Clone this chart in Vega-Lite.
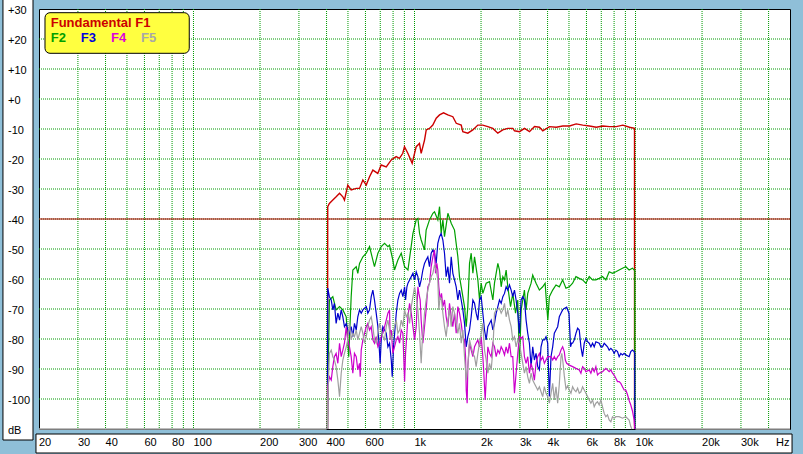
{
"$schema": "https://vega.github.io/schema/vega-lite/v6.json",
"width": 751, "height": 420,
"autosize": {"type": "none"},
"padding": {"left": 39, "top": 9, "right": 13, "bottom": 25},
"background": "#8fbfd8",
"config": {"view": {"fill": "white", "stroke": "#000000", "strokeWidth": 1}, "font": "Liberation Sans"},
"data": {"values": [{}]},
"datasets": {
"vgrid": [{"f":30},{"f":40},{"f":50},{"f":60},{"f":70},{"f":80},{"f":90},{"f":100},{"f":200},{"f":300},{"f":400},{"f":500},{"f":600},{"f":700},{"f":800},{"f":900},{"f":1000},{"f":2000},{"f":3000},{"f":4000},{"f":5000},{"f":6000},{"f":7000},{"f":8000},{"f":9000},{"f":10000},{"f":20000},{"f":30000},{"f":40000}],
"hgrid": [{"db":20},{"db":10},{"db":0},{"db":-10},{"db":-20},{"db":-30},{"db":-40},{"db":-50},{"db":-60},{"db":-70},{"db":-80},{"db":-90},{"db":-100}],
"xlabels": [{"f":20,"t":"20"},{"f":30,"t":"30"},{"f":40,"t":"40"},{"f":60,"t":"60"},{"f":80,"t":"80"},{"f":100,"t":"100"},{"f":200,"t":"200"},{"f":300,"t":"300"},{"f":400,"t":"400"},{"f":600,"t":"600"},{"f":1000,"t":"1k"},{"f":2000,"t":"2k"},{"f":3000,"t":"3k"},{"f":4000,"t":"4k"},{"f":6000,"t":"6k"},{"f":8000,"t":"8k"},{"f":10000,"t":"10k"},{"f":20000,"t":"20k"},{"f":30000,"t":"30k"},{"f":43200,"t":"Hz"}],
"ylabels": [{"db":30,"t":"+30"},{"db":20,"t":"+20"},{"db":10,"t":"+10"},{"db":0,"t":"+0"},{"db":-10,"t":"-10"},{"db":-20,"t":"-20"},{"db":-30,"t":"-30"},{"db":-40,"t":"-40"},{"db":-50,"t":"-50"},{"db":-60,"t":"-60"},{"db":-70,"t":"-70"},{"db":-80,"t":"-80"},{"db":-90,"t":"-90"},{"db":-100,"t":"-100"},{"db":-110,"t":"dB"}],
"F1": [{"f":404,"db":-110},{"f":405,"db":-35.9},{"f":412,"db":-34.8},{"f":427,"db":-33.7},{"f":442,"db":-32.6},{"f":458,"db":-31.4},{"f":474,"db":-32.6},{"f":482,"db":-33.7},{"f":499,"db":-28.7},{"f":517,"db":-30.3},{"f":545,"db":-29.8},{"f":564,"db":-29.8},{"f":584,"db":-27},{"f":605,"db":-28.7},{"f":626,"db":-25.9},{"f":648,"db":-23.7},{"f":682,"db":-24.8},{"f":707,"db":-22},{"f":745,"db":-22.6},{"f":785,"db":-20.3},{"f":826,"db":-19.2},{"f":855,"db":-19.8},{"f":885,"db":-18.1},{"f":901,"db":-15.9},{"f":933,"db":-18.1},{"f":976,"db":-21.4},{"f":1018,"db":-15.9},{"f":1053,"db":-14.8},{"f":1072,"db":-18.1},{"f":1110,"db":-13.7},{"f":1130,"db":-10.3},{"f":1169,"db":-9.8},{"f":1210,"db":-8.7},{"f":1254,"db":-6.4},{"f":1298,"db":-5.3},{"f":1353,"db":-4.6},{"f":1415,"db":-5.3},{"f":1491,"db":-5.9},{"f":1545,"db":-8.1},{"f":1627,"db":-8.7},{"f":1654,"db":-10.9},{"f":1743,"db":-11.4},{"f":1836,"db":-10.3},{"f":1934,"db":-8.7},{"f":2037,"db":-8.7},{"f":2146,"db":-9.2},{"f":2261,"db":-9.8},{"f":2382,"db":-11.4},{"f":2508,"db":-10.3},{"f":2643,"db":-9.8},{"f":2784,"db":-9.8},{"f":2835,"db":-10.6},{"f":2986,"db":-10.9},{"f":3146,"db":-9.8},{"f":3314,"db":-10.9},{"f":3491,"db":-9.2},{"f":3678,"db":-9.4},{"f":3806,"db":-10.6},{"f":4082,"db":-9.2},{"f":4377,"db":-9.4},{"f":4688,"db":-9},{"f":5028,"db":-9},{"f":5391,"db":-8.3},{"f":5774,"db":-8.7},{"f":6193,"db":-9},{"f":6641,"db":-9.4},{"f":7112,"db":-9},{"f":7627,"db":-9.2},{"f":8179,"db":-9.2},{"f":8761,"db":-8.7},{"f":9395,"db":-9.4},{"f":9897,"db":-9.8},{"f":9900,"db":-110}],
"F2": [{"f":404,"db":-110},{"f":405,"db":-100},{"f":412,"db":-67},{"f":427,"db":-65.9},{"f":442,"db":-70.3},{"f":458,"db":-69.2},{"f":474,"db":-70.3},{"f":491,"db":-72.6},{"f":504,"db":-85.9},{"f":517,"db":-65.9},{"f":526,"db":-57},{"f":545,"db":-55.9},{"f":554,"db":-58.1},{"f":564,"db":-54.8},{"f":584,"db":-52.6},{"f":605,"db":-51.4},{"f":626,"db":-49.2},{"f":648,"db":-53.7},{"f":659,"db":-55.9},{"f":683,"db":-51.4},{"f":707,"db":-49.2},{"f":732,"db":-48.1},{"f":758,"db":-49.2},{"f":771,"db":-48.7},{"f":798,"db":-53.7},{"f":812,"db":-57},{"f":841,"db":-53.7},{"f":871,"db":-51.4},{"f":902,"db":-55.9},{"f":934,"db":-57},{"f":984,"db":-44.8},{"f":1018,"db":-40.3},{"f":1036,"db":-39.8},{"f":1054,"db":-44.8},{"f":1072,"db":-47},{"f":1110,"db":-50.3},{"f":1129,"db":-43.7},{"f":1169,"db":-40.3},{"f":1211,"db":-38.1},{"f":1232,"db":-37.6},{"f":1275,"db":-40.3},{"f":1298,"db":-35.9},{"f":1320,"db":-44.8},{"f":1344,"db":-40.3},{"f":1367,"db":-45.9},{"f":1416,"db":-38.1},{"f":1466,"db":-41.4},{"f":1517,"db":-43.7},{"f":1571,"db":-52.6},{"f":1598,"db":-59.2},{"f":1627,"db":-62.6},{"f":1684,"db":-69.2},{"f":1714,"db":-75.9},{"f":1743,"db":-69.2},{"f":1774,"db":-54.8},{"f":1805,"db":-51.4},{"f":1837,"db":-58.1},{"f":1869,"db":-52.6},{"f":1935,"db":-60.3},{"f":1969,"db":-67},{"f":2003,"db":-61.4},{"f":2038,"db":-64.8},{"f":2110,"db":-61.4},{"f":2185,"db":-60.9},{"f":2262,"db":-67},{"f":2301,"db":-61.4},{"f":2383,"db":-54.8},{"f":2424,"db":-57},{"f":2467,"db":-62.6},{"f":2510,"db":-59.2},{"f":2554,"db":-60.3},{"f":2598,"db":-57},{"f":2643,"db":-62.6},{"f":2720,"db":-69.2},{"f":2784,"db":-64.8},{"f":2865,"db":-71.4},{"f":2933,"db":-67},{"f":2984,"db":-88.1},{"f":3038,"db":-70.3},{"f":3089,"db":-67},{"f":3143,"db":-63.7},{"f":3198,"db":-70.3},{"f":3254,"db":-64.8},{"f":3369,"db":-61.4},{"f":3427,"db":-58.7},{"f":3548,"db":-61.4},{"f":3673,"db":-63.7},{"f":3802,"db":-62.6},{"f":3900,"db":-61.4},{"f":3967,"db":-69.2},{"f":4011,"db":-73.7},{"f":4075,"db":-65.9},{"f":4219,"db":-63.7},{"f":4367,"db":-62},{"f":4521,"db":-62.6},{"f":4680,"db":-60.3},{"f":4845,"db":-63.1},{"f":5016,"db":-62.6},{"f":5193,"db":-61.4},{"f":5376,"db":-59.2},{"f":5565,"db":-59.8},{"f":5761,"db":-60.3},{"f":5964,"db":-61.4},{"f":6174,"db":-59.2},{"f":6392,"db":-60.3},{"f":6617,"db":-60.3},{"f":6850,"db":-59.8},{"f":7092,"db":-59.2},{"f":7341,"db":-60.3},{"f":7600,"db":-57.6},{"f":7868,"db":-58.1},{"f":8145,"db":-57.6},{"f":8433,"db":-57},{"f":8730,"db":-56.4},{"f":9037,"db":-55.9},{"f":9356,"db":-57},{"f":9685,"db":-56.4},{"f":9922,"db":-57.2},{"f":9925,"db":-110}],
"F3": [{"f":404,"db":-110},{"f":405,"db":-63},{"f":412,"db":-65.9},{"f":420,"db":-67},{"f":427,"db":-70.3},{"f":434,"db":-68.1},{"f":442,"db":-74.8},{"f":450,"db":-71.4},{"f":458,"db":-73.7},{"f":466,"db":-70.3},{"f":474,"db":-72.6},{"f":482,"db":-75.9},{"f":491,"db":-74.8},{"f":499,"db":-77},{"f":508,"db":-78.1},{"f":517,"db":-75.9},{"f":526,"db":-79.2},{"f":535,"db":-74.8},{"f":545,"db":-77},{"f":554,"db":-72.6},{"f":564,"db":-70.3},{"f":574,"db":-71.4},{"f":584,"db":-70.3},{"f":605,"db":-69.2},{"f":615,"db":-71.4},{"f":626,"db":-70.3},{"f":637,"db":-65.9},{"f":648,"db":-63.7},{"f":659,"db":-67},{"f":671,"db":-71.4},{"f":683,"db":-75.9},{"f":695,"db":-84.8},{"f":699,"db":-88.1},{"f":707,"db":-80.3},{"f":719,"db":-75.9},{"f":732,"db":-77},{"f":745,"db":-78.1},{"f":758,"db":-82.6},{"f":771,"db":-81.4},{"f":785,"db":-87},{"f":793,"db":-92.6},{"f":804,"db":-82.6},{"f":827,"db":-71.4},{"f":841,"db":-67},{"f":856,"db":-64.8},{"f":871,"db":-63.7},{"f":886,"db":-65.9},{"f":902,"db":-62.6},{"f":911,"db":-67},{"f":924,"db":-62.6},{"f":934,"db":-61.4},{"f":950,"db":-60.3},{"f":967,"db":-59.2},{"f":984,"db":-58.1},{"f":1001,"db":-60.3},{"f":1018,"db":-57.6},{"f":1036,"db":-59.2},{"f":1054,"db":-62.6},{"f":1072,"db":-60.3},{"f":1091,"db":-57},{"f":1110,"db":-54.8},{"f":1129,"db":-53.7},{"f":1149,"db":-52.6},{"f":1169,"db":-55.9},{"f":1190,"db":-51.4},{"f":1211,"db":-50.3},{"f":1232,"db":-51.4},{"f":1253,"db":-54.8},{"f":1275,"db":-48.1},{"f":1298,"db":-45.9},{"f":1320,"db":-44.8},{"f":1344,"db":-47},{"f":1367,"db":-51.4},{"f":1391,"db":-59.2},{"f":1416,"db":-55.9},{"f":1440,"db":-61.4},{"f":1466,"db":-52.6},{"f":1491,"db":-58.1},{"f":1517,"db":-60.3},{"f":1544,"db":-62.6},{"f":1571,"db":-67},{"f":1598,"db":-63.7},{"f":1627,"db":-67},{"f":1655,"db":-70.3},{"f":1684,"db":-74.8},{"f":1714,"db":-82.6},{"f":1743,"db":-79.2},{"f":1774,"db":-77},{"f":1805,"db":-72.6},{"f":1837,"db":-67},{"f":1869,"db":-68.1},{"f":1901,"db":-71.4},{"f":1935,"db":-73.7},{"f":1969,"db":-67},{"f":2003,"db":-65.9},{"f":2038,"db":-71.4},{"f":2074,"db":-77},{"f":2110,"db":-80.3},{"f":2147,"db":-75.9},{"f":2185,"db":-74.8},{"f":2223,"db":-73.7},{"f":2262,"db":-77},{"f":2301,"db":-74.8},{"f":2342,"db":-71.4},{"f":2383,"db":-69.2},{"f":2424,"db":-67},{"f":2467,"db":-68.1},{"f":2510,"db":-65.9},{"f":2554,"db":-64.8},{"f":2598,"db":-62.6},{"f":2643,"db":-63.7},{"f":2690,"db":-62},{"f":2737,"db":-63.7},{"f":2784,"db":-65.9},{"f":2833,"db":-63.7},{"f":2882,"db":-67},{"f":2933,"db":-71.4},{"f":2984,"db":-78.1},{"f":3036,"db":-67},{"f":3089,"db":-65.9},{"f":3143,"db":-67},{"f":3198,"db":-73.7},{"f":3254,"db":-78.1},{"f":3311,"db":-81.4},{"f":3369,"db":-89.2},{"f":3427,"db":-82.6},{"f":3487,"db":-87},{"f":3548,"db":-84.8},{"f":3610,"db":-89.2},{"f":3673,"db":-90.3},{"f":3737,"db":-82.6},{"f":3802,"db":-80.3},{"f":3869,"db":-80.3},{"f":3936,"db":-79.2},{"f":4005,"db":-81.4},{"f":4075,"db":-99.2},{"f":4146,"db":-85.9},{"f":4219,"db":-82.6},{"f":4292,"db":-78.1},{"f":4367,"db":-77},{"f":4444,"db":-75.9},{"f":4521,"db":-72.6},{"f":4600,"db":-71.4},{"f":4680,"db":-70.3},{"f":4762,"db":-69.8},{"f":4880,"db":-69.4},{"f":5000,"db":-71.4},{"f":5083,"db":-82.6},{"f":5140,"db":-81.4},{"f":5193,"db":-81.4},{"f":5284,"db":-80.3},{"f":5376,"db":-78.1},{"f":5470,"db":-76.4},{"f":5565,"db":-77},{"f":5662,"db":-82.6},{"f":5761,"db":-85.9},{"f":5862,"db":-81.4},{"f":5964,"db":-79.8},{"f":6068,"db":-80.9},{"f":6174,"db":-81.4},{"f":6282,"db":-82.6},{"f":6392,"db":-81.4},{"f":6503,"db":-82.6},{"f":6617,"db":-80.9},{"f":6850,"db":-81.4},{"f":6970,"db":-82.6},{"f":7092,"db":-82.6},{"f":7216,"db":-81.4},{"f":7341,"db":-82},{"f":7470,"db":-82.6},{"f":7600,"db":-83.7},{"f":7733,"db":-83.1},{"f":7868,"db":-83.7},{"f":8006,"db":-84.8},{"f":8145,"db":-83.7},{"f":8288,"db":-84.2},{"f":8433,"db":-85.9},{"f":8580,"db":-84.8},{"f":8730,"db":-85.3},{"f":8883,"db":-84.8},{"f":9037,"db":-85.3},{"f":9356,"db":-85.9},{"f":9519,"db":-84.2},{"f":9685,"db":-83.7},{"f":9855,"db":-84.2},{"f":9922,"db":-84.8},{"f":9925,"db":-110}],
"F4": [{"f":404,"db":-110},{"f":405,"db":-96},{"f":412,"db":-92.6},{"f":420,"db":-93.7},{"f":427,"db":-89.2},{"f":434,"db":-85.9},{"f":442,"db":-84.8},{"f":450,"db":-88.1},{"f":458,"db":-81.4},{"f":466,"db":-85.9},{"f":474,"db":-83.7},{"f":482,"db":-81.4},{"f":491,"db":-75.9},{"f":499,"db":-80.3},{"f":508,"db":-82.6},{"f":517,"db":-85.9},{"f":526,"db":-91.4},{"f":535,"db":-84.8},{"f":545,"db":-85.9},{"f":554,"db":-90.3},{"f":564,"db":-88.1},{"f":568,"db":-92.6},{"f":574,"db":-83.7},{"f":584,"db":-80.3},{"f":605,"db":-75.9},{"f":615,"db":-74.8},{"f":626,"db":-77},{"f":637,"db":-75.9},{"f":648,"db":-80.3},{"f":659,"db":-81.4},{"f":671,"db":-79.2},{"f":683,"db":-82.6},{"f":695,"db":-81.4},{"f":707,"db":-79.2},{"f":719,"db":-78.1},{"f":732,"db":-75.9},{"f":745,"db":-73.7},{"f":758,"db":-71.4},{"f":771,"db":-70.3},{"f":776,"db":-80.3},{"f":785,"db":-77},{"f":798,"db":-84.8},{"f":812,"db":-82.6},{"f":827,"db":-80.3},{"f":841,"db":-79.2},{"f":856,"db":-81.4},{"f":871,"db":-77},{"f":886,"db":-78.1},{"f":902,"db":-94.2},{"f":911,"db":-84.8},{"f":924,"db":-78.1},{"f":934,"db":-72.6},{"f":950,"db":-68.1},{"f":967,"db":-71.4},{"f":984,"db":-75.9},{"f":1001,"db":-80.3},{"f":1018,"db":-75.9},{"f":1036,"db":-62.6},{"f":1047,"db":-64.8},{"f":1061,"db":-67},{"f":1072,"db":-73.7},{"f":1091,"db":-81.4},{"f":1110,"db":-75.9},{"f":1129,"db":-70.3},{"f":1149,"db":-62.6},{"f":1169,"db":-61.4},{"f":1190,"db":-55.9},{"f":1211,"db":-52.6},{"f":1232,"db":-50.3},{"f":1245,"db":-58.1},{"f":1262,"db":-54.8},{"f":1275,"db":-57},{"f":1288,"db":-62.6},{"f":1307,"db":-67},{"f":1325,"db":-64.8},{"f":1344,"db":-69.2},{"f":1367,"db":-67},{"f":1391,"db":-72.6},{"f":1416,"db":-75.9},{"f":1440,"db":-68.1},{"f":1466,"db":-72.6},{"f":1491,"db":-75.9},{"f":1517,"db":-71.4},{"f":1544,"db":-78.1},{"f":1571,"db":-69.2},{"f":1598,"db":-71.4},{"f":1627,"db":-74.8},{"f":1655,"db":-79.2},{"f":1684,"db":-80.3},{"f":1702,"db":-85.9},{"f":1714,"db":-97},{"f":1731,"db":-101.4},{"f":1743,"db":-89.2},{"f":1774,"db":-81.4},{"f":1805,"db":-83.7},{"f":1837,"db":-85.9},{"f":1869,"db":-82.6},{"f":1901,"db":-81.4},{"f":1935,"db":-80.3},{"f":1969,"db":-82.6},{"f":2003,"db":-79.2},{"f":2038,"db":-85.9},{"f":2059,"db":-91.4},{"f":2088,"db":-100.3},{"f":2110,"db":-93.7},{"f":2147,"db":-82.6},{"f":2185,"db":-84.8},{"f":2223,"db":-85.9},{"f":2262,"db":-81.4},{"f":2301,"db":-82.6},{"f":2342,"db":-85.9},{"f":2383,"db":-83.7},{"f":2424,"db":-84.8},{"f":2467,"db":-82.6},{"f":2510,"db":-83.7},{"f":2554,"db":-85.3},{"f":2598,"db":-82.6},{"f":2643,"db":-84.8},{"f":2690,"db":-81.4},{"f":2737,"db":-85.9},{"f":2784,"db":-85.9},{"f":2833,"db":-98.1},{"f":2882,"db":-91.4},{"f":2933,"db":-84.8},{"f":2984,"db":-79.2},{"f":3036,"db":-79.8},{"f":3089,"db":-79.2},{"f":3143,"db":-85.9},{"f":3198,"db":-88.1},{"f":3254,"db":-85.9},{"f":3311,"db":-91.4},{"f":3369,"db":-88.1},{"f":3427,"db":-90.3},{"f":3487,"db":-93.7},{"f":3548,"db":-88.1},{"f":3610,"db":-85.9},{"f":3673,"db":-84.8},{"f":3737,"db":-87},{"f":3802,"db":-85.9},{"f":3869,"db":-88.1},{"f":3936,"db":-87},{"f":4005,"db":-85.9},{"f":4075,"db":-85.9},{"f":4146,"db":-85.9},{"f":4219,"db":-87},{"f":4292,"db":-85.9},{"f":4367,"db":-87},{"f":4444,"db":-85.9},{"f":4521,"db":-85.3},{"f":4600,"db":-83.7},{"f":4680,"db":-82.6},{"f":4762,"db":-84.2},{"f":4812,"db":-87},{"f":4880,"db":-88.1},{"f":5016,"db":-88.7},{"f":5193,"db":-89.2},{"f":5376,"db":-89.8},{"f":5565,"db":-90.3},{"f":5662,"db":-91.4},{"f":5761,"db":-89.2},{"f":5862,"db":-89.8},{"f":5964,"db":-90.9},{"f":6174,"db":-90.3},{"f":6282,"db":-91.4},{"f":6392,"db":-89.8},{"f":6503,"db":-90.9},{"f":6617,"db":-89.2},{"f":6732,"db":-92},{"f":6850,"db":-91.4},{"f":7092,"db":-90.9},{"f":7341,"db":-89.8},{"f":7600,"db":-90.9},{"f":7733,"db":-90.3},{"f":7868,"db":-91.4},{"f":8006,"db":-92},{"f":8145,"db":-93.1},{"f":8288,"db":-94.2},{"f":8433,"db":-94.2},{"f":8580,"db":-94.8},{"f":8730,"db":-95.9},{"f":8883,"db":-97},{"f":9037,"db":-97},{"f":9195,"db":-98.5},{"f":9356,"db":-100.5},{"f":9519,"db":-102},{"f":9685,"db":-104},{"f":9855,"db":-107},{"f":9922,"db":-110}],
"F5": [{"f":404,"db":-110},{"f":405,"db":-100},{"f":412,"db":-84.8},{"f":420,"db":-83.7},{"f":427,"db":-85.9},{"f":434,"db":-87},{"f":442,"db":-89.2},{"f":450,"db":-93.7},{"f":458,"db":-99.2},{"f":466,"db":-91.4},{"f":474,"db":-87},{"f":482,"db":-84.8},{"f":491,"db":-82.6},{"f":499,"db":-80.3},{"f":508,"db":-74.8},{"f":517,"db":-80.3},{"f":526,"db":-78.1},{"f":535,"db":-79.2},{"f":545,"db":-77},{"f":554,"db":-80.3},{"f":564,"db":-78.1},{"f":574,"db":-75.9},{"f":584,"db":-78.1},{"f":594,"db":-81.4},{"f":605,"db":-79.2},{"f":615,"db":-75.9},{"f":626,"db":-73.7},{"f":637,"db":-72.6},{"f":648,"db":-75.9},{"f":659,"db":-80.3},{"f":671,"db":-81.4},{"f":683,"db":-78.1},{"f":695,"db":-74.8},{"f":707,"db":-77},{"f":719,"db":-79.2},{"f":732,"db":-80.3},{"f":745,"db":-75.9},{"f":758,"db":-73.7},{"f":771,"db":-77},{"f":785,"db":-80.3},{"f":798,"db":-78.1},{"f":812,"db":-75.9},{"f":827,"db":-73.7},{"f":841,"db":-78.1},{"f":856,"db":-77},{"f":871,"db":-73.7},{"f":886,"db":-75.9},{"f":902,"db":-70.3},{"f":918,"db":-72.6},{"f":934,"db":-71.4},{"f":950,"db":-74.8},{"f":967,"db":-69.2},{"f":984,"db":-65.9},{"f":1001,"db":-62.6},{"f":1018,"db":-65.9},{"f":1036,"db":-70.3},{"f":1054,"db":-78.1},{"f":1072,"db":-88.1},{"f":1083,"db":-81.4},{"f":1099,"db":-75.9},{"f":1110,"db":-71.4},{"f":1129,"db":-67},{"f":1149,"db":-63.7},{"f":1169,"db":-61.4},{"f":1190,"db":-59.2},{"f":1211,"db":-58.1},{"f":1232,"db":-55.3},{"f":1253,"db":-57},{"f":1275,"db":-60.3},{"f":1288,"db":-70.3},{"f":1307,"db":-65.9},{"f":1325,"db":-67},{"f":1344,"db":-71.4},{"f":1367,"db":-75.9},{"f":1391,"db":-79.2},{"f":1416,"db":-73.7},{"f":1440,"db":-70.3},{"f":1466,"db":-75.9},{"f":1491,"db":-69.2},{"f":1517,"db":-71.4},{"f":1544,"db":-74.8},{"f":1571,"db":-78.1},{"f":1598,"db":-74.8},{"f":1627,"db":-81.4},{"f":1655,"db":-77},{"f":1684,"db":-85.9},{"f":1714,"db":-93.7},{"f":1743,"db":-89.2},{"f":1774,"db":-80.3},{"f":1805,"db":-82.6},{"f":1837,"db":-84.8},{"f":1869,"db":-85.9},{"f":1901,"db":-89.2},{"f":1935,"db":-84.8},{"f":1969,"db":-81.4},{"f":2003,"db":-78.1},{"f":2038,"db":-74.8},{"f":2074,"db":-83.7},{"f":2110,"db":-87},{"f":2147,"db":-91.4},{"f":2185,"db":-88.1},{"f":2223,"db":-90.3},{"f":2262,"db":-83.7},{"f":2301,"db":-71.4},{"f":2342,"db":-70.3},{"f":2424,"db":-69.8},{"f":2467,"db":-71.4},{"f":2510,"db":-70.3},{"f":2554,"db":-68.1},{"f":2598,"db":-72.6},{"f":2643,"db":-70.3},{"f":2690,"db":-73.7},{"f":2737,"db":-75.9},{"f":2784,"db":-80.3},{"f":2833,"db":-79.2},{"f":2882,"db":-82.6},{"f":2933,"db":-80.3},{"f":2984,"db":-81.4},{"f":3036,"db":-84.8},{"f":3089,"db":-88.1},{"f":3143,"db":-91.4},{"f":3198,"db":-89.2},{"f":3254,"db":-92.6},{"f":3311,"db":-94.8},{"f":3369,"db":-91.4},{"f":3427,"db":-93.7},{"f":3487,"db":-94.8},{"f":3548,"db":-95.9},{"f":3610,"db":-97},{"f":3673,"db":-95.9},{"f":3737,"db":-97.6},{"f":3802,"db":-99.2},{"f":3869,"db":-95.9},{"f":3936,"db":-98.1},{"f":4005,"db":-99.2},{"f":4075,"db":-101.4},{"f":4146,"db":-98.1},{"f":4219,"db":-94.8},{"f":4292,"db":-100.3},{"f":4367,"db":-95.9},{"f":4444,"db":-101.4},{"f":4521,"db":-95},{"f":4600,"db":-86},{"f":4640,"db":-84.8},{"f":4700,"db":-88},{"f":4762,"db":-92.3},{"f":4845,"db":-96.7},{"f":4930,"db":-95.6},{"f":5016,"db":-97},{"f":5104,"db":-98.1},{"f":5193,"db":-95.9},{"f":5284,"db":-97},{"f":5376,"db":-97.6},{"f":5470,"db":-96.4},{"f":5565,"db":-98.1},{"f":5662,"db":-97.6},{"f":5761,"db":-95.9},{"f":5862,"db":-97},{"f":5964,"db":-98.1},{"f":6068,"db":-99.2},{"f":6174,"db":-100.3},{"f":6282,"db":-101.4},{"f":6392,"db":-100.3},{"f":6503,"db":-102.6},{"f":6617,"db":-101.4},{"f":6732,"db":-100.9},{"f":6850,"db":-102},{"f":6970,"db":-100.3},{"f":7092,"db":-102.6},{"f":7216,"db":-104.8},{"f":7341,"db":-105.9},{"f":7470,"db":-105.3},{"f":7600,"db":-107},{"f":7733,"db":-107.6},{"f":7868,"db":-105.9},{"f":8006,"db":-106.4},{"f":8145,"db":-105.9},{"f":8433,"db":-105.9},{"f":8730,"db":-106.4},{"f":9037,"db":-105.9},{"f":9356,"db":-107},{"f":9519,"db":-109.2},{"f":9618,"db":-110}]
},
"layer": [
{"mark": {"type": "rect", "fill": "white", "stroke": "black", "strokeWidth": 1, "clip": false},
 "encoding": {
  "x": {"datum": 13.74, "type": "quantitative", "scale": {"type": "log", "domain": [20, 50000], "nice": false}, "axis": null},
  "x2": {"datum": 18.79},
  "y": {"datum": 33.67, "type": "quantitative", "scale": {"domain": [-110, 30], "nice": false}, "axis": null},
  "y2": {"datum": -113.67}}},
{"mark": {"type": "rect", "fill": "white", "stroke": "black", "strokeWidth": 1, "clip": false},
 "encoding": {
  "x": {"datum": 19.38, "type": "quantitative", "scale": {"type": "log", "domain": [20, 50000], "nice": false}, "axis": null},
  "x2": {"datum": 51075},
  "y": {"datum": -111.67, "type": "quantitative", "scale": {"domain": [-110, 30], "nice": false}, "axis": null},
  "y2": {"datum": -118}}},
{"data": {"name": "xlabels"},
 "mark": {"type": "text", "align": "left", "baseline": "middle", "font": "Liberation Sans", "fontSize": 11, "fill": "#000000"},
 "encoding": {
  "x": {"field": "f", "type": "quantitative", "scale": {"type": "log", "domain": [20, 50000], "nice": false}, "axis": null},
  "y": {"datum": -114.57, "type": "quantitative", "scale": {"domain": [-110, 30], "nice": false}, "axis": null},
  "text": {"field": "t", "type": "nominal"}}},
{"data": {"name": "ylabels"},
 "mark": {"type": "text", "align": "left", "baseline": "middle", "dy": 2, "font": "Liberation Sans", "fontSize": 11, "fill": "#000000"},
 "encoding": {
  "x": {"datum": 14.48, "type": "quantitative", "scale": {"type": "log", "domain": [20, 50000], "nice": false}, "axis": null},
  "y": {"field": "db", "type": "quantitative", "scale": {"domain": [-110, 30], "nice": false}, "axis": null},
  "text": {"field": "t", "type": "nominal"}}},
{"data": {"name": "vgrid"},
 "mark": {"type": "rule", "stroke": "#009a00", "strokeWidth": 1, "strokeDash": [1, 1]},
 "encoding": {
  "x": {"field": "f", "type": "quantitative", "scale": {"type": "log", "domain": [20, 50000], "nice": false}, "axis": null}}},
{"data": {"name": "hgrid"},
 "mark": {"type": "rule", "stroke": "#009a00", "strokeWidth": 1, "strokeDash": [1, 1]},
 "encoding": {
  "y": {"field": "db", "type": "quantitative", "scale": {"domain": [-110, 30], "nice": false}, "axis": null}}},
{"mark": {"type": "rule", "stroke": "#b40000", "strokeWidth": 1.1},
 "encoding": {"y": {"datum": -40, "type": "quantitative", "scale": {"domain": [-110, 30], "nice": false}, "axis": null}}},
{"mark": {"type": "rule", "stroke": "#a8a8a8", "strokeWidth": 1.5},
 "encoding": {
  "x": {"datum": 20, "type": "quantitative", "scale": {"type": "log", "domain": [20, 50000], "nice": false}, "axis": null},
  "x2": {"datum": 400},
  "y": {"datum": -110, "type": "quantitative", "scale": {"domain": [-110, 30], "nice": false}, "axis": null}}},
{"mark": {"type": "rule", "stroke": "#a8a8a8", "strokeWidth": 1.5},
 "encoding": {
  "x": {"datum": 10000, "type": "quantitative", "scale": {"type": "log", "domain": [20, 50000], "nice": false}, "axis": null},
  "x2": {"datum": 50000},
  "y": {"datum": -110, "type": "quantitative", "scale": {"domain": [-110, 30], "nice": false}, "axis": null}}},
{"data": {"name": "F1"}, "mark": {"type": "line", "stroke": "#cc0000", "strokeWidth": 1.4},
 "encoding": {"x": {"field": "f", "type": "quantitative", "scale": {"type": "log", "domain": [20, 50000], "nice": false}, "axis": null},
  "y": {"field": "db", "type": "quantitative", "scale": {"domain": [-110, 30], "nice": false}, "axis": null}}},
{"data": {"name": "F2"}, "mark": {"type": "line", "stroke": "#00a000", "strokeWidth": 1.2},
 "encoding": {"x": {"field": "f", "type": "quantitative", "scale": {"type": "log", "domain": [20, 50000], "nice": false}, "axis": null},
  "y": {"field": "db", "type": "quantitative", "scale": {"domain": [-110, 30], "nice": false}, "axis": null}}},
{"data": {"name": "F3"}, "mark": {"type": "line", "stroke": "#0000cc", "strokeWidth": 1.2},
 "encoding": {"x": {"field": "f", "type": "quantitative", "scale": {"type": "log", "domain": [20, 50000], "nice": false}, "axis": null},
  "y": {"field": "db", "type": "quantitative", "scale": {"domain": [-110, 30], "nice": false}, "axis": null}}},
{"data": {"name": "F4"}, "mark": {"type": "line", "stroke": "#cc00cc", "strokeWidth": 1.2},
 "encoding": {"x": {"field": "f", "type": "quantitative", "scale": {"type": "log", "domain": [20, 50000], "nice": false}, "axis": null},
  "y": {"field": "db", "type": "quantitative", "scale": {"domain": [-110, 30], "nice": false}, "axis": null}}},
{"data": {"name": "F5"}, "mark": {"type": "line", "stroke": "#a0a0a0", "strokeWidth": 1.2},
 "encoding": {"x": {"field": "f", "type": "quantitative", "scale": {"type": "log", "domain": [20, 50000], "nice": false}, "axis": null},
  "y": {"field": "db", "type": "quantitative", "scale": {"domain": [-110, 30], "nice": false}, "axis": null}}},
{"mark": {"type": "rect", "fill": "#ffff40", "stroke": "black", "strokeWidth": 1, "cornerRadius": 5},
 "encoding": {
  "x": {"datum": 21.29, "type": "quantitative", "scale": {"type": "log", "domain": [20, 50000], "nice": false}, "axis": null},
  "x2": {"datum": 95.7},
  "y": {"datum": 28.77, "type": "quantitative", "scale": {"domain": [-110, 30], "nice": false}, "axis": null},
  "y2": {"datum": 15.23}}},
{"mark": {"type": "text", "text": "Fundamental F1", "align": "left", "baseline": "alphabetic", "font": "Liberation Sans", "fontSize": 13, "fontWeight": "bold", "fill": "#cc0000"},
 "encoding": {
  "x": {"datum": 22.59, "type": "quantitative", "scale": {"type": "log", "domain": [20, 50000], "nice": false}, "axis": null},
  "y": {"datum": 24.1, "type": "quantitative", "scale": {"domain": [-110, 30], "nice": false}, "axis": null}}},
{"mark": {"type": "text", "text": "F2", "align": "left", "baseline": "alphabetic", "font": "Liberation Sans", "fontSize": 13, "fontWeight": "bold", "fill": "#00a000"},
 "encoding": {
  "x": {"datum": 22.59, "type": "quantitative", "scale": {"type": "log", "domain": [20, 50000], "nice": false}, "axis": null},
  "y": {"datum": 19.1, "type": "quantitative", "scale": {"domain": [-110, 30], "nice": false}, "axis": null}}},
{"mark": {"type": "text", "text": "F3", "align": "left", "baseline": "alphabetic", "font": "Liberation Sans", "fontSize": 13, "fontWeight": "bold", "fill": "#0000dd"},
 "encoding": {
  "x": {"datum": 30.89, "type": "quantitative", "scale": {"type": "log", "domain": [20, 50000], "nice": false}, "axis": null},
  "y": {"datum": 19.1, "type": "quantitative", "scale": {"domain": [-110, 30], "nice": false}, "axis": null}}},
{"mark": {"type": "text", "text": "F4", "align": "left", "baseline": "alphabetic", "font": "Liberation Sans", "fontSize": 13, "fontWeight": "bold", "fill": "#dd00dd"},
 "encoding": {
  "x": {"datum": 42.35, "type": "quantitative", "scale": {"type": "log", "domain": [20, 50000], "nice": false}, "axis": null},
  "y": {"datum": 19.1, "type": "quantitative", "scale": {"domain": [-110, 30], "nice": false}, "axis": null}}},
{"mark": {"type": "text", "text": "F5", "align": "left", "baseline": "alphabetic", "font": "Liberation Sans", "fontSize": 13, "fontWeight": "bold", "fill": "#a8a8a8"},
 "encoding": {
  "x": {"datum": 57.87, "type": "quantitative", "scale": {"type": "log", "domain": [20, 50000], "nice": false}, "axis": null},
  "y": {"datum": 19.1, "type": "quantitative", "scale": {"domain": [-110, 30], "nice": false}, "axis": null}}}
]
}
